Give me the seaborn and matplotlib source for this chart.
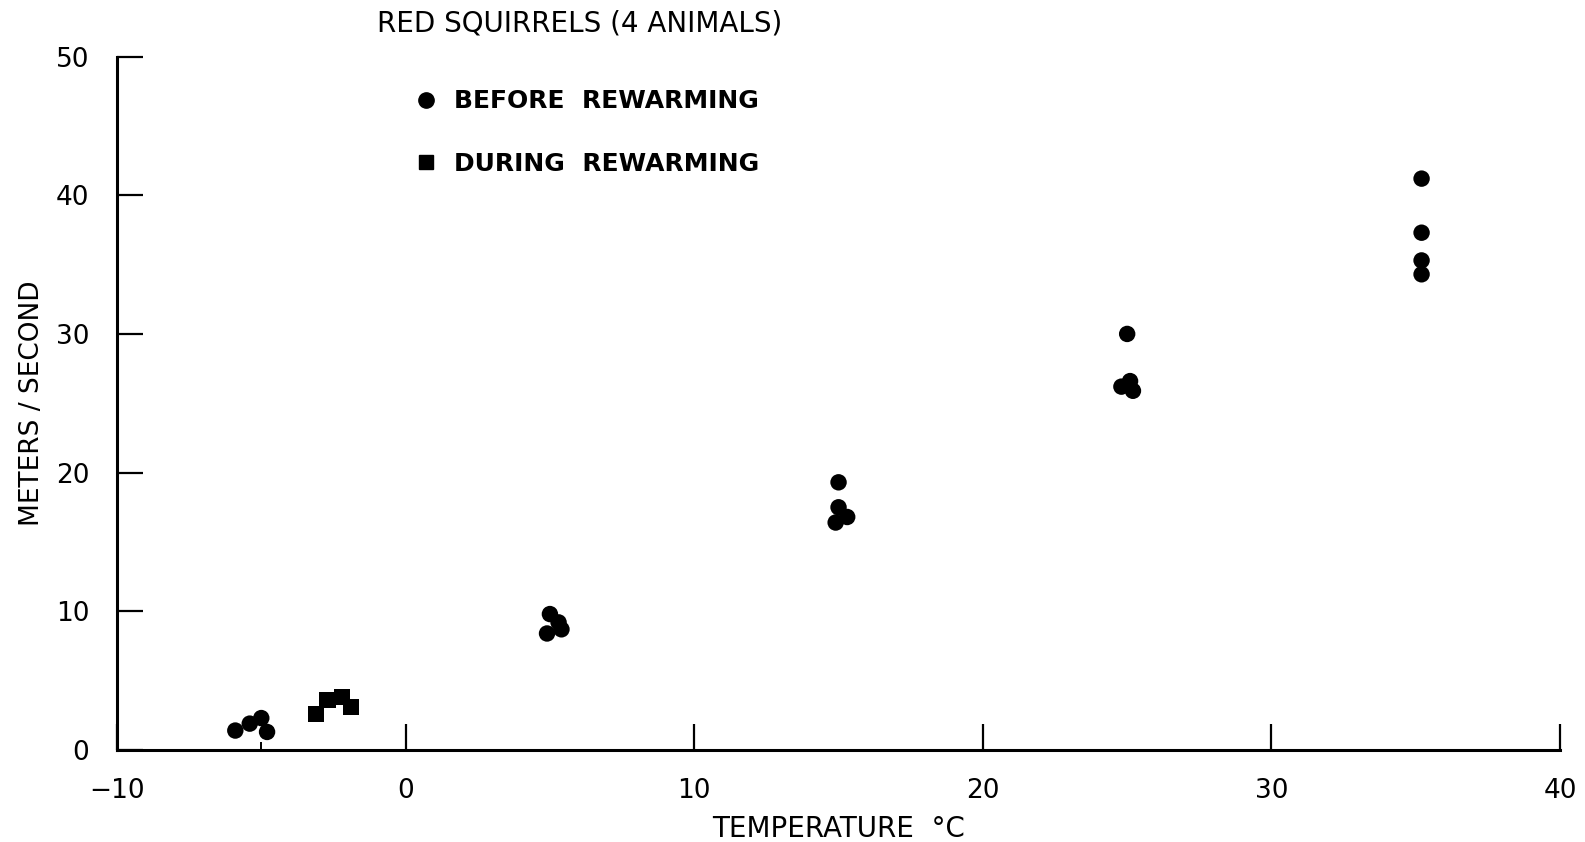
import numpy as np
import pandas as pd
import matplotlib
matplotlib.use("Agg")
import matplotlib.pyplot as plt
import seaborn as sns
from matplotlib.lines import Line2D

# values
before_temp = [-5.9, -5.4, -5.0, -4.8,
               5.0, 5.3, 4.9, 5.4,
               15.0, 15.0, 15.3, 14.9,
               25.0, 25.1, 24.8, 25.2,
               35.2, 35.2, 35.2, 35.2]
before_speed = [1.4, 1.9, 2.3, 1.3,
                9.8, 9.2, 8.4, 8.7,
                19.3, 17.5, 16.8, 16.4,
                30.0, 26.6, 26.2, 25.9,
                41.2, 37.3, 35.3, 34.3]
during_temp = [-3.1, -2.7, -2.2, -1.9]
during_speed = [2.6, 3.6, 3.8, 3.1]

xticks = [-10, 0, 10, 20, 30, 40]
yticks = [0, 10, 20, 30, 40, 50]

df = pd.DataFrame({
    "temp": before_temp + during_temp,
    "speed": before_speed + during_speed,
    "phase": ["before"] * len(before_temp) + ["during"] * len(during_temp),
})

sns.set_style("white")
plt.rcParams["font.family"] = ["DejaVu Sans"]
plt.rcParams["text.color"] = "black"
plt.rcParams["xtick.color"] = "black"
plt.rcParams["ytick.color"] = "black"
plt.rcParams["axes.labelcolor"] = "black"

fig = plt.figure(figsize=(15.85, 8.42), dpi=100)
ax = fig.add_axes([0.0738, 0.1093, 0.9105, 0.8235])

sns.scatterplot(data=df, x="temp", y="speed", style="phase",
                markers={"before": "o", "during": "s"}, color="black",
                s=140, edgecolor="none", legend=False, ax=ax)

ax.set_xlim(-10, 40)
ax.set_ylim(0, 50)
ax.set_xticks(xticks)
ax.set_yticks(yticks)
ax.set_xticks([-5], minor=True)
ax.tick_params(bottom=True, left=True, direction="in", length=19, width=1.6,
               labelsize=19)
ax.tick_params(axis="x", pad=20)
ax.tick_params(axis="y", pad=20)
ax.tick_params(axis="x", which="minor", bottom=True, direction="in", length=6, width=1.4)
for side in ["top", "right"]:
    ax.spines[side].set_visible(False)
for side in ["left", "bottom"]:
    ax.spines[side].set_linewidth(2.2)
    ax.spines[side].set_color("black")

ax.set_xlabel("TEMPERATURE  °C", fontsize=20, labelpad=8)
ax.set_ylabel("METERS / SECOND", fontsize=19, labelpad=8)

fig.text(0.238, 0.972, "RED SQUIRRELS (4 ANIMALS)", fontsize=20,
         va="center", ha="left")

handles = [Line2D([], [], marker="o", color="black", linestyle="none", markersize=11),
           Line2D([], [], marker="s", color="black", linestyle="none", markersize=10)]
ax.legend(handles, ["BEFORE  REWARMING", "DURING  REWARMING"], loc="upper left",
          bbox_to_anchor=(0.19, 0.985), frameon=False,
          prop={"size": 18, "weight": "bold"},
          labelspacing=1.55, handletextpad=0.6, handlelength=1.0)

fig.savefig("out.png", dpi=100)
